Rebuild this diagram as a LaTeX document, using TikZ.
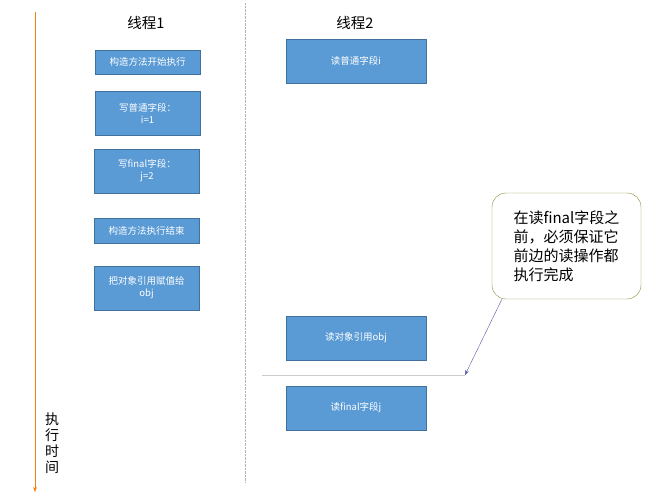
\documentclass[tikz,border=0pt]{standalone}
\usepackage{fontspec}
\newfontfamily\cjk{Noto Sans CJK SC}
\usetikzlibrary{arrows.meta}
\definecolor{boxblue}{HTML}{5B9BD5}
\definecolor{boxedge}{HTML}{41719C}
\begin{document}
\begin{tikzpicture}[x=1pt,y=-1pt,
  bx/.style={draw=boxedge,fill=boxblue,text=white,font=\cjk\fontsize{9.5}{12}\selectfont,align=center,inner sep=0pt},
  hdr/.style={font=\cjk\fontsize{14.5}{16}\selectfont}]
\useasboundingbox (0,0) rectangle (656,497);
\fill[white] (0,0) rectangle (656,497);
\coordinate (ta) at (35,12); \coordinate (tb) at (35,492);
\draw[draw=orange!80!brown,-{Stealth[length=5pt]}] (ta) -- (tb);
\node[font=\cjk\fontsize{14}{16}\selectfont,align=center] (lbl) at (52,443) {执\\行\\时\\间};
\coordinate (da) at (245,3); \coordinate (db) at (245,483);
\draw[gray!60,densely dotted] (da) -- (db);
\node[hdr] (h1) at (146,23) {线程1};
\node[hdr] (h2) at (355,23) {线程2};
\node[bx,minimum width=105,minimum height=24] (a1) at (147.5,62) {构造方法开始执行};
\node[bx,minimum width=105,minimum height=44] (a2) at (147.5,113) {写普通字段：\\i=1};
\node[bx,minimum width=105,minimum height=44] (a3) at (147,171) {写final字段：\\j=2};
\node[bx,minimum width=105,minimum height=25] (a4) at (146.5,230.5) {构造方法执行结束};
\node[bx,minimum width=105,minimum height=44] (a5) at (146.5,288) {把对象引用赋值给\\obj};
\node[bx,minimum width=140,minimum height=44] (b1) at (356,61) {读普通字段i};
\node[bx,minimum width=140,minimum height=44] (b2) at (356,338) {读对象引用obj};
\node[bx,minimum width=140,minimum height=44] (b3) at (356,408) {读final字段j};
\coordinate (la) at (262,375); \coordinate (lb) at (465,375);
\draw[gray!40] (la) -- (lb);
\node[draw=olive!60!gray,rounded corners=14pt,minimum width=149,minimum height=106,align=left,font=\cjk\fontsize{15}{19}\selectfont,inner sep=0pt] (c) at (566.5,246) {在读final字段之\\前，必须保证它\\前边的读操作都\\执行完成};
\coordinate (cp) at (502,299);
\draw[gray!70!blue,-{Stealth[length=5pt]}] (cp) -- (lb);
\end{tikzpicture}
\end{document}
